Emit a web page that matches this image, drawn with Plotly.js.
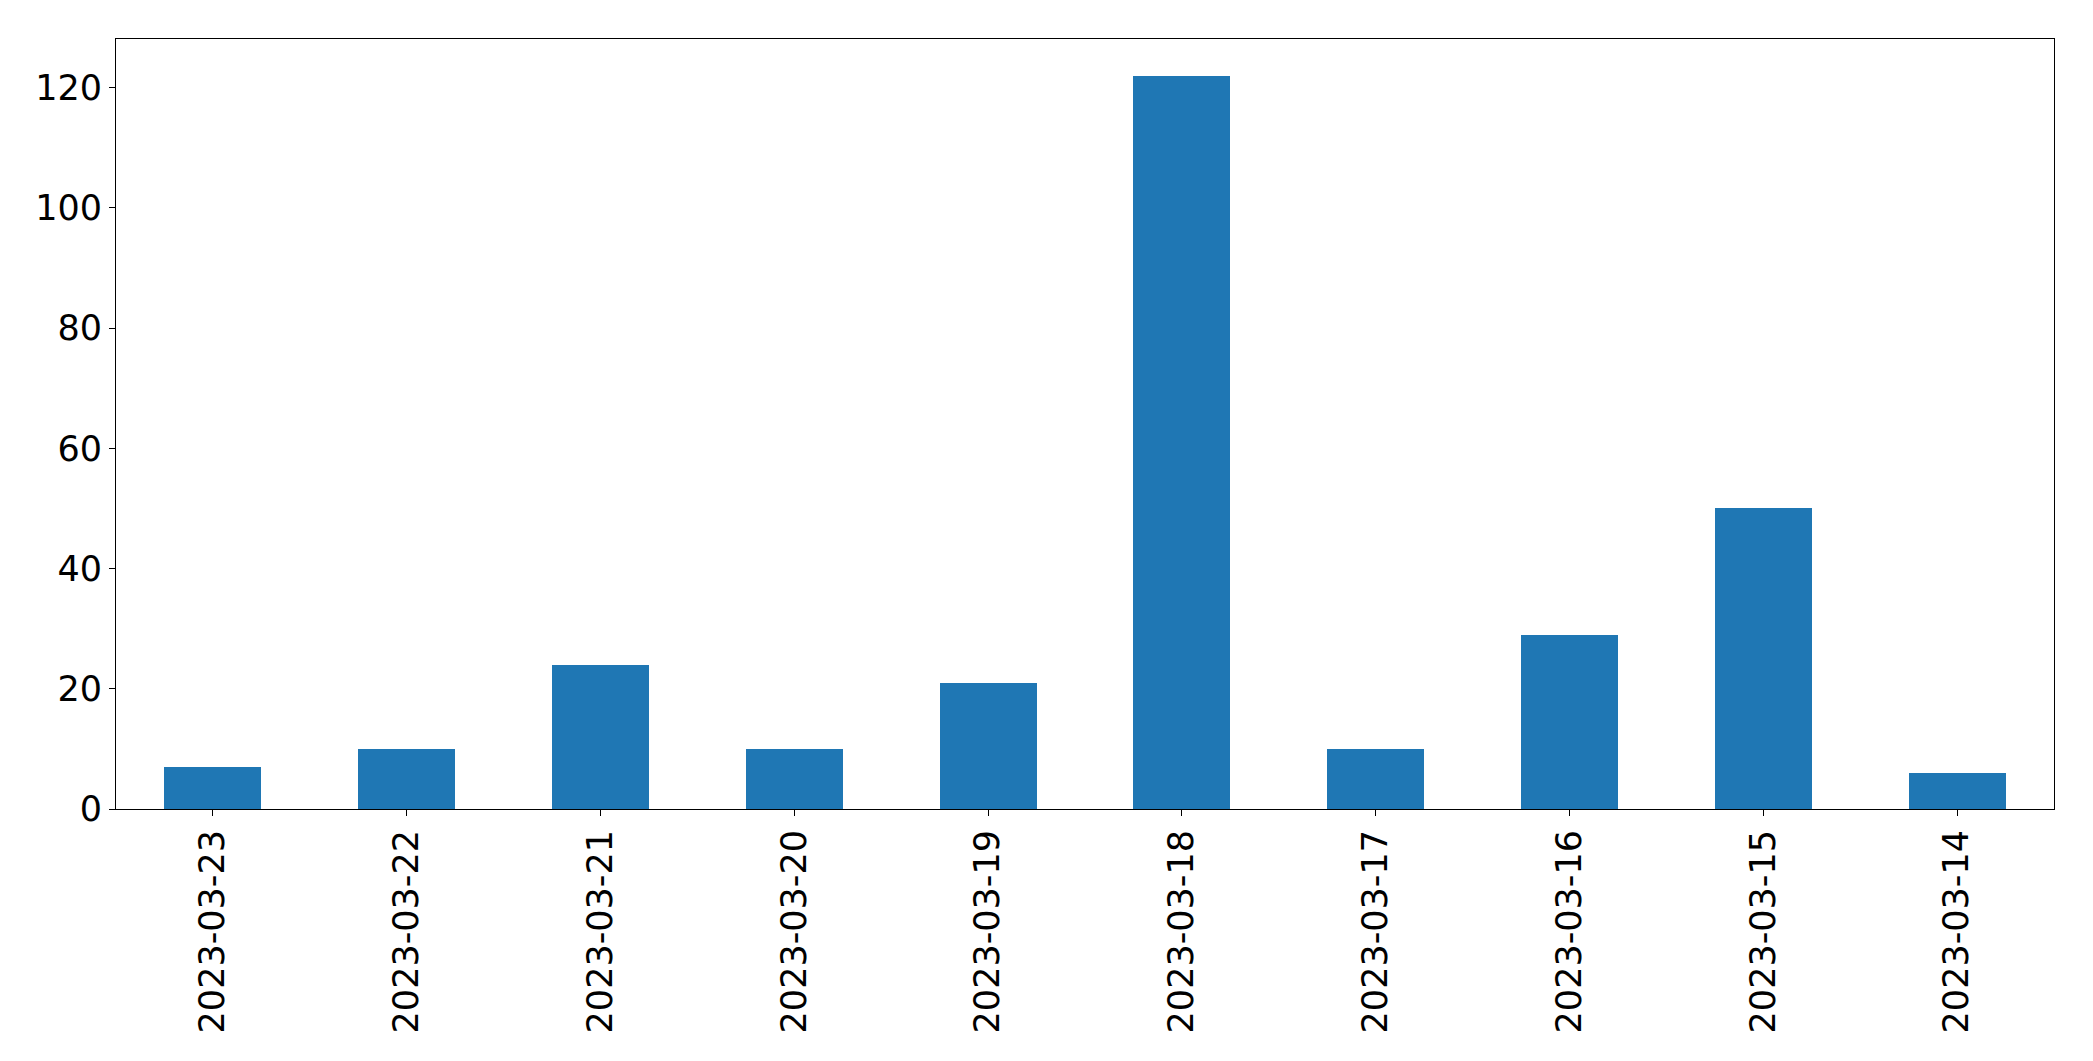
<!DOCTYPE html>
<html>
<head>
<meta charset="utf-8">
<script src="https://cdn.plot.ly/plotly-3.0.1.min.js"></script>
<style>html,body{margin:0;padding:0;background:#fff;}#chart{width:2093px;height:1061px;}</style>
</head>
<body>
<div id="chart"></div>
<script>
const dates = ["2023-03-23","2023-03-22","2023-03-21","2023-03-20","2023-03-19","2023-03-18","2023-03-17","2023-03-16","2023-03-15","2023-03-14"];
const counts = [7, 10, 24, 10, 21, 122, 10, 29, 50, 6];
const yTicks = [0, 20, 40, 60, 80, 100, 120];

const trace = {
  type: 'bar',
  x: dates,
  y: counts,
  width: 0.5,
  marker: {color: '#1f77b4', line: {width: 0}},
  hoverinfo: 'x+y'
};

const font = {family: 'DejaVu Sans', size: 35, color: '#000'};

const layout = {
  width: 2093,
  height: 1061,
  margin: {l: 116, r: 39, t: 39, b: 252, pad: 0},
  paper_bgcolor: '#fff',
  plot_bgcolor: '#fff',
  showlegend: false,
  font: font,
  bargap: 0,
  xaxis: {
    type: 'category',
    range: [-0.5, 9.5],
    tickangle: -90,
    ticks: 'outside',
    ticklen: 6,
    tickwidth: 1,
    tickcolor: '#000',
    showline: true,
    linecolor: '#000',
    linewidth: 1,
    mirror: true,
    showgrid: false,
    zeroline: false,
    tickfont: font,
    fixedrange: true
  },
  yaxis: {
    range: [0, 128.1],
    tickvals: yTicks,
    ticktext: yTicks.map(String),
    ticks: 'outside',
    ticklen: 6,
    tickwidth: 1,
    tickcolor: '#000',
    showline: true,
    linecolor: '#000',
    linewidth: 1,
    mirror: true,
    showgrid: false,
    zeroline: false,
    tickfont: font,
    fixedrange: true
  }
};

Plotly.newPlot('chart', [trace], layout, {displayModeBar: false, staticPlot: true});
</script>
</body>
</html>
